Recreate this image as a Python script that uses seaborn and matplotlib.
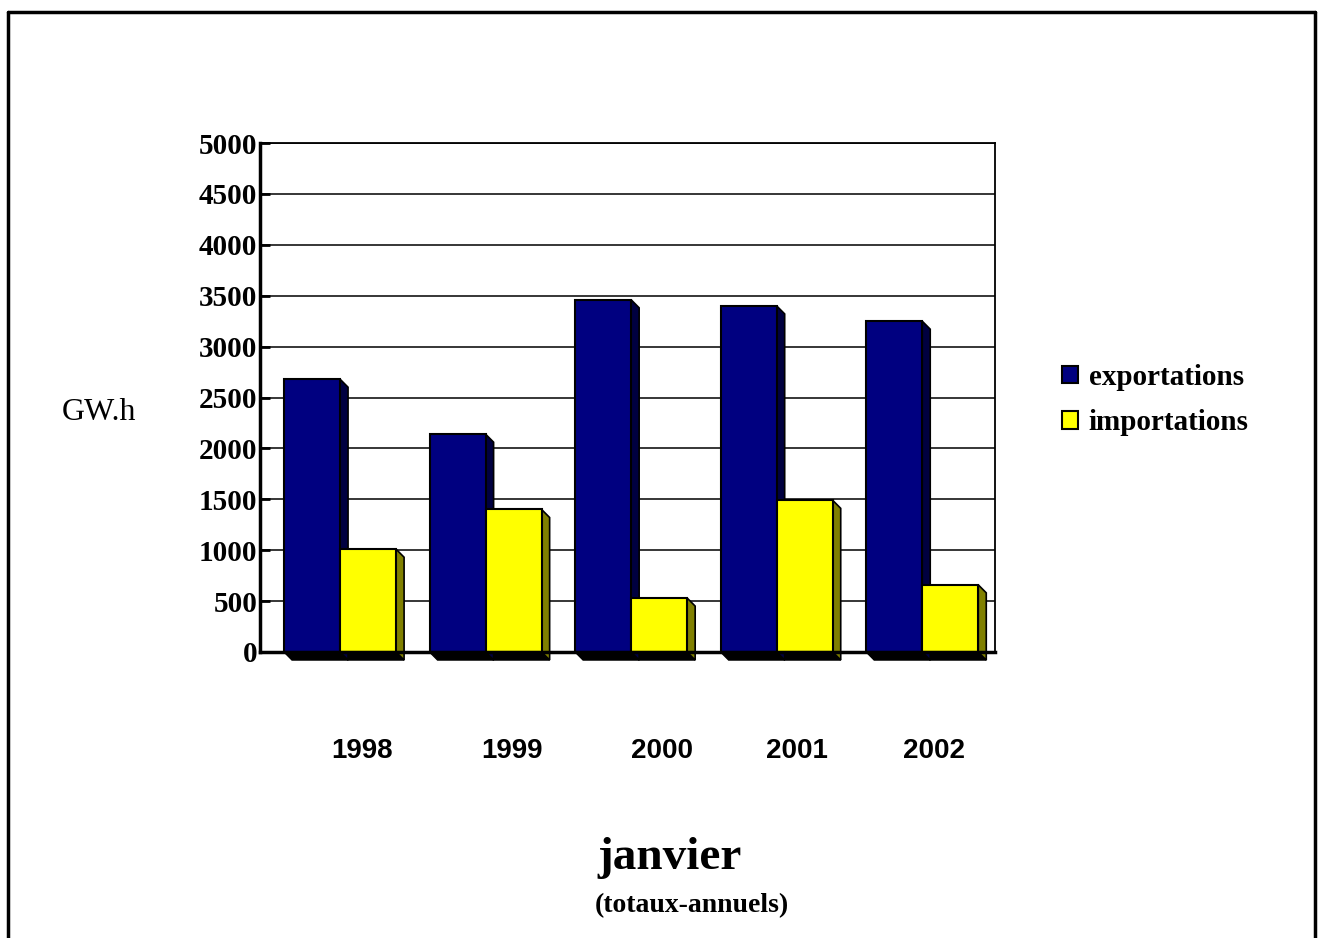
import matplotlib
matplotlib.use("Agg")
import matplotlib.pyplot as plt
from matplotlib.patches import Polygon
from matplotlib.lines import Line2D
import seaborn as sns
import pandas as pd

years = ["1998", "1999", "2000", "2001", "2002"]
exportations = [2680, 2140, 3460, 3400, 3250]
importations = [1010, 1400, 530, 1490, 660]
series_names = ["exportations", "importations"]
y_ticks = [0, 500, 1000, 1500, 2000, 2500, 3000, 3500, 4000, 4500, 5000]

df = pd.DataFrame({
    "annee": years * 2,
    "valeur": exportations + importations,
    "serie": [series_names[0]] * len(years) + [series_names[1]] * len(years),
})

front = {"exportations": "#000080", "importations": "#FFFF00"}
side = {"exportations": "#000040", "importations": "#808000"}

sns.set_theme(style="white")
plt.rcParams["font.family"] = ["Liberation Serif", "DejaVu Sans"]
plt.rcParams["text.color"] = "black"
plt.rcParams["xtick.color"] = "black"
plt.rcParams["ytick.color"] = "black"

fig = plt.figure(figsize=(13.18, 9.38), dpi=100)
ax = fig.add_axes([260/1318, 1-652/938, (995-260)/1318, (652-143)/938])

sns.barplot(data=df, x="annee", y="valeur", hue="serie", palette=front,
            width=0.77, edgecolor="black", linewidth=1.5, ax=ax, legend=False,
            saturation=1)

ax.set_xlim(-0.55, 4.5)
ax.set_ylim(0, 5000)

# 3D depth (data units)
dx = 0.055
dy = 79
bars = list(ax.patches)
n = len(years)
for i, p in enumerate(bars):
    s = series_names[i // n]
    x0 = p.get_x()
    x1 = x0 + p.get_width()
    h = p.get_height()
    p.set_zorder(4)
    floor = Polygon([(x0, 0), (x1, 0), (x1 + dx, -dy), (x0 + dx, -dy)],
                    closed=True, facecolor="black", edgecolor="black",
                    lw=1, zorder=2, clip_on=False)
    ax.add_patch(floor)
    sd = Polygon([(x1, h), (x1 + dx, h - dy), (x1 + dx, -dy), (x1, 0)],
                 closed=True, facecolor=side[s], edgecolor="black",
                 lw=1.2, zorder=3, clip_on=False)
    ax.add_patch(sd)

ax.set_yticks(y_ticks)
ax.set_yticklabels([str(v) for v in y_ticks], fontsize=21, fontweight="bold",
                   family="Liberation Serif", color="black")
ax.yaxis.grid(True, color="black", lw=1.1)
ax.set_axisbelow(True)
ax.tick_params(axis="y", direction="in", length=7, width=2, pad=2, left=True)

label_shift = [0.15, 0.18, 0.21, 0.14, 0.08]
ax.set_xticks([i + label_shift[i] for i in range(n)])
ax.set_xticklabels(years, fontsize=20, fontweight="bold", family="Liberation Sans",
                   color="black")
ax.tick_params(axis="x", length=0, pad=62)

ax.set_xlabel("")
ax.set_ylabel("")
for sp in ["left", "bottom"]:
    ax.spines[sp].set_color("black")
    ax.spines[sp].set_linewidth(2.5)
for sp in ["top", "right"]:
    ax.spines[sp].set_color("black")
    ax.spines[sp].set_linewidth(1.3)
ax.spines["bottom"].set_zorder(5)

fig.text(62/1318, 1-412/938, "GW.h", fontsize=23, family="Liberation Serif",
         ha="left", va="center", color="black")

handles = [plt.Rectangle((0, 0), 1, 1, facecolor=front[s], edgecolor="black", lw=1.5)
           for s in series_names]
leg = fig.legend(handles, series_names, loc="center left",
                 bbox_to_anchor=(1036/1318, 1-400/938), frameon=False,
                 prop={"family": "Liberation Serif", "weight": "bold", "size": 21},
                 handlelength=0.55, handleheight=0.55, handletextpad=0.35,
                 labelspacing=0.62)
for t in leg.get_texts():
    t.set_color("black")

fig.text(670/1318, 1-858/938, "janvier", fontsize=34, fontweight="bold",
         family="Liberation Serif", ha="center", va="center", color="black")
fig.text(692/1318, 1-906/938, "(totaux-annuels)", fontsize=20, fontweight="bold",
         family="Liberation Serif", ha="center", va="center", color="black")

# outer frame
fl = 8/1318
ft = 1-12/938
fr = 1315/1318
for xs, ys in [([fl, fr], [ft, ft]), ([fl, fl], [ft, 0]), ([fr, fr], [ft, 0])]:
    fig.add_artist(Line2D(xs, ys, color="black", lw=2.5, transform=fig.transFigure))

fig.savefig("out.png", dpi=100, facecolor="white")
